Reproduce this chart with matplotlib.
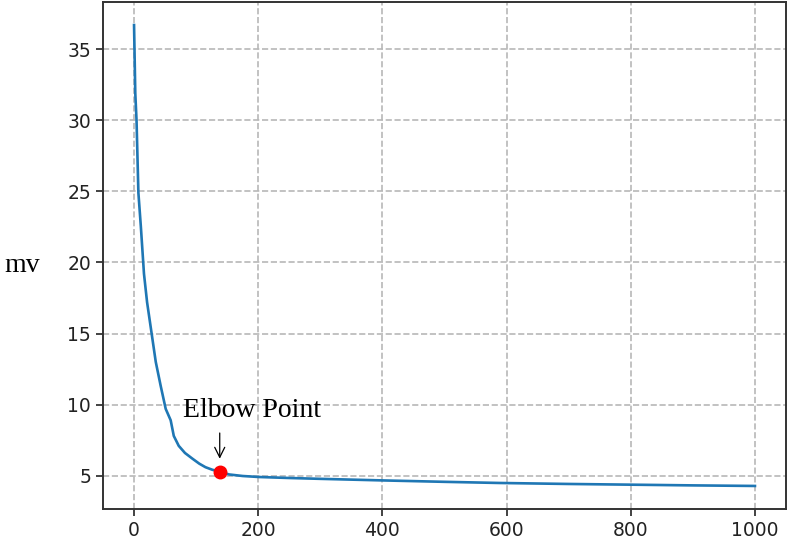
import numpy as np
import matplotlib
matplotlib.use("Agg")
import matplotlib.pyplot as plt

# curve values
k = [0, 2, 4, 7, 11, 16, 21, 28, 35, 43, 51, 59, 64, 72, 82, 94, 105, 115, 126, 137, 153, 175, 201,
     250, 300, 400, 500, 588, 700, 800, 900, 1000]
mv = [36.7, 31.9, 30.0, 24.9, 22.5, 19.2, 17.2, 15.1, 13.0, 11.3, 9.7, 8.9, 7.8, 7.1, 6.6, 6.2, 5.85,
      5.6, 5.42, 5.3, 5.09, 4.98, 4.91, 4.84, 4.78, 4.67, 4.57, 4.49, 4.42, 4.37, 4.32, 4.28]
elbow_x = 138
elbow_y = 5.25

fig = plt.figure(figsize=(7.88, 5.46), dpi=100)
ax = fig.add_axes([103 / 788, 37 / 546, 683 / 788, 507 / 546])

ax.plot(k, mv, color='#1f77b4', lw=1.9)
ax.plot(elbow_x, elbow_y, 'o', color='red', ms=9)

# arrow + label above the elbow
ax.annotate('', xy=(elbow_x, 6.0), xytext=(elbow_x, 8.2),
            arrowprops=dict(arrowstyle='->', color='black', lw=0.9, mutation_scale=18))
ax.text(190, 9.1, 'Elbow Point', ha='center', va='baseline',
        family='Liberation Serif', fontsize=20)

ax.set_xticks([0, 200, 400, 600, 800, 1000])
ax.set_yticks([5, 10, 15, 20, 25, 30, 35])
ax.tick_params(labelsize=13.5, length=5, width=1.2, colors='#222222')
ax.grid(True, linestyle='--', color='#b8b8b8', lw=1.2)
for s in ax.spines.values():
    s.set_linewidth(1.4)
    s.set_color('#333333')

fig.text(22 / 788, 1 - 272 / 546, 'mv', ha='center', va='baseline',
         family='Liberation Serif', fontsize=20)

fig.savefig('out.png', dpi=100)
